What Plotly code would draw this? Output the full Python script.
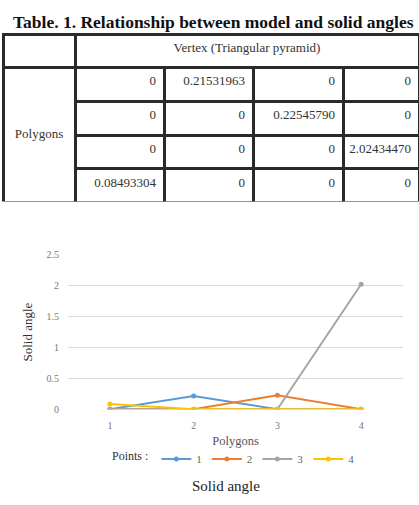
import plotly.graph_objects as go

# ---- data ----
polygons = ["1", "2", "3", "4"]
point_names = ["1", "2", "3", "4"]
point1 = [0, 0.21531963, 0, 0]
point2 = [0, 0, 0.22545790, 0]
point3 = [0, 0, 0, 2.02434470]
point4 = [0.08493304, 0, 0, 0]
series = [point1, point2, point3, point4]
colors = ["#5B9BD5", "#ED7D31", "#A5A5A5", "#FFC000"]
y_ticks = [0, 0.5, 1, 1.5, 2, 2.5]

table_title = "Table. 1. Relationship between model and solid angles"
header_label = "Vertex (Triangular pyramid)"
row_label = "Polygons"

W, H = 419, 505
SERIF = "Liberation Serif, Times New Roman, serif"


def fmt(v):
    return "0" if v == 0 else f"{v:.8f}"


def px_x(x):
    return x / W


def px_y(y):
    return 1 - y / H


fig = go.Figure()

line_c = "#2a2a2a"
tfont = dict(family=SERIF, size=13, color="#333")
NB = "\u00a0<br>"

# header row
fig.add_trace(go.Table(
    domain=dict(x=[px_x(3), 1], y=[px_y(65), px_y(29)]),
    columnwidth=[72, 344],
    header=dict(values=["", header_label], height=34, align=["center", "center"],
                line=dict(color=line_c, width=3), fill=dict(color="white"), font=tfont),
    cells=dict(values=[[], []], line=dict(color=line_c, width=3), fill=dict(color="white")),
))

# left merged column
fig.add_trace(go.Table(
    domain=dict(x=[px_x(3), px_x(75)], y=[px_y(201), px_y(63)]),
    header=dict(values=[NB * 3 + row_label], height=135, align="center",
                line=dict(color=line_c, width=3), fill=dict(color="white"), font=tfont),
    cells=dict(values=[[]], line=dict(color=line_c, width=3), fill=dict(color="white")),
))

# value grid (first data row rendered as the table's header row, styled like cells)
cols = [[fmt(s[j]) for s in series] for j in range(4)]
fig.add_trace(go.Table(
    domain=dict(x=[px_x(75), 1], y=[px_y(201), px_y(63)]),
    columnwidth=[89, 89, 90, 76],
    header=dict(values=[c[0] for c in cols], height=33.75, align="right",
                line=dict(color=line_c, width=3), fill=dict(color="white"), font=tfont),
    cells=dict(values=[c[1:] for c in cols], height=33.75, align="right",
               line=dict(color=line_c, width=3), fill=dict(color="white"), font=tfont),
))

for name, vals, c in zip(point_names, series, colors):
    fig.add_trace(go.Scatter(
        x=polygons, y=vals, name=name, mode="lines+markers",
        line=dict(color=c, width=2), marker=dict(color=c, size=5),
    ))

fig.update_layout(
    width=W, height=H,
    margin=dict(l=0, r=0, t=0, b=0),
    paper_bgcolor="white", plot_bgcolor="white",
    font=dict(family=SERIF, color="#555"),
    xaxis=dict(domain=[px_x(68), px_x(403)], type="category", range=[-0.5, 3.5],
               showgrid=False, zeroline=False, showline=False,
               tickfont=dict(size=10, color="#777"), ticklabelstandoff=9,
               title=dict(text="Polygons", font=dict(size=12.5, color="#555"), standoff=6)),
    yaxis=dict(domain=[px_y(413), px_y(255)], range=[0, 2.5], tickvals=y_ticks,
               ticktext=[f"{v:g}" for v in y_ticks],
               showgrid=True, gridcolor="#d9d9d9", gridwidth=1, zeroline=False, showline=False,
               tickfont=dict(size=10, color="#777"), ticklabelstandoff=8,
               title=dict(text="Solid angle", font=dict(size=13, color="#333"), standoff=10)),
    legend=dict(orientation="h", x=px_x(235), xanchor="center", y=px_y(464), yanchor="middle",
                title=dict(text="Points :", font=dict(size=12, color="#333")),
                font=dict(size=11, color="#666"), itemwidth=30),
    title=dict(text="Solid angle", x=px_x(226), xanchor="center", y=px_y(486), yanchor="middle",
               yref="container", xref="container", font=dict(family=SERIF, size=15, color="#222")),
    annotations=[dict(text="<b>" + table_title + "</b>", x=px_x(11), y=px_y(16), xref="paper",
                      yref="paper", xanchor="left", yanchor="middle", showarrow=False,
                      font=dict(family=SERIF, size=17.5, color="#111"))],
)

fig.write_html("out.html")
